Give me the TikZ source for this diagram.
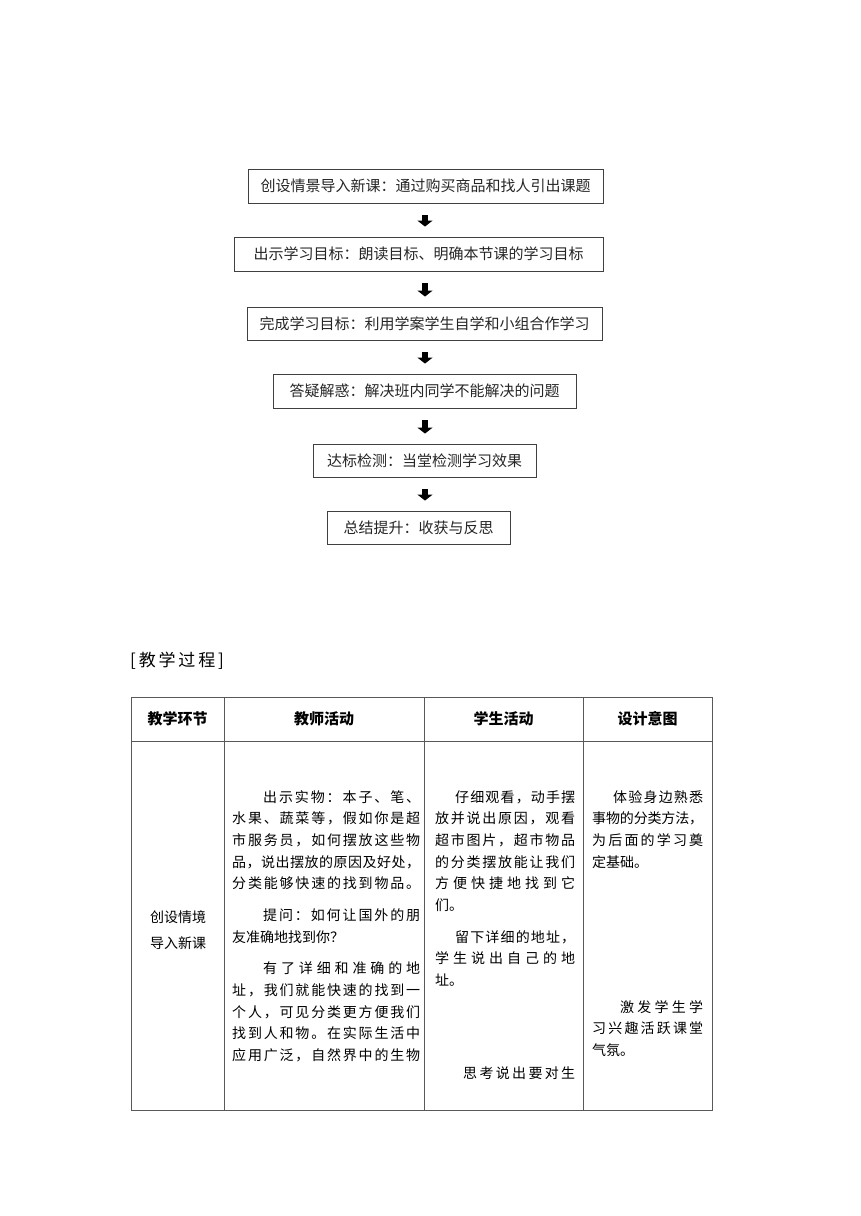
\documentclass[tikz,border=0pt]{standalone}
\usepackage{fontspec}
\setmainfont{Noto Sans CJK SC}
\usetikzlibrary{arrows.meta}

% gesperrte Zeile: Zeichen auf volle Breite verteilen
\def\sperrschleife#1#2{#1\ifx\relax#2\else\hskip 0pt plus 1fil minus 2pt\expandafter\sperrschleife\expandafter#2\fi}
\newcommand\sperrzeile[3]{\hbox to #1{\hskip #2\relax\sperrschleife#3\relax\relax}}

\tikzset{
  kasten/.style={draw=black!75, line width=0.9pt, minimum height=34pt, inner sep=0pt,
    font=\fontsize{15}{18}\selectfont, text=black!85},
  pfeil/.style={line width=6pt, black, -{Triangle[width=15pt,length=6pt]},
    shorten <=12pt, shorten >=10pt},
  zeile/.style={anchor=west, inner sep=0pt, text height=12.3pt, text depth=1.7pt,
    font=\fontsize{14}{16}\selectfont},
  kopf/.style={inner sep=0pt, font=\fontsize{15}{18}\selectfont\bfseries},
  gitter/.style={draw=black!65, line width=0.9pt},
}

\begin{document}
\begin{tikzpicture}[x=1pt,y=-1pt]
  \fill[white] (0,0) rectangle (860,1216);
  \useasboundingbox (0,0) rectangle (860,1216);

  % Ablauf:
  \node[kasten, minimum width=355pt] (flow1) at (425.5,186) {创设情景导入新课：通过购买商品和找人引出课题};
  \node[kasten, minimum width=369pt] (flow2) at (418.5,254) {出示学习目标：朗读目标、明确本节课的学习目标};
  \node[kasten, minimum width=355pt, minimum height=33pt] (flow3) at (424.5,323.5) {完成学习目标：利用学案学生自学和小组合作学习};
  \node[kasten, minimum width=303pt] (flow4) at (424.5,391) {答疑解惑：解决班内同学不能解决的问题};
  \node[kasten, minimum width=223pt, minimum height=33pt] (flow5) at (424.5,460.5) {达标检测：当堂检测学习效果};
  \node[kasten, minimum width=183pt, minimum height=33pt] (flow6) at (418.5,527.5) {总结提升：收获与反思};

  \coordinate (achse) at (425,0); % Pfeilachse
  \draw[pfeil] (achse |- flow1.south) -- (achse |- flow2.north);
  \draw[pfeil] (achse |- flow2.south) -- (achse |- flow3.north);
  \draw[pfeil] (achse |- flow3.south) -- (achse |- flow4.north);
  \draw[pfeil] (achse |- flow4.south) -- (achse |- flow5.north);
  \draw[pfeil] (achse |- flow5.south) -- (achse |- flow6.north);

  % Tabelle:
  \node[anchor=west, inner sep=0pt, font=\fontsize{17}{20}\selectfont] (titel) at (130,661) {[\,教\,学\,过\,程\,]};
  \draw[gitter] (131,697) rectangle (712,1110);
  \draw[gitter] (131,741) -- (712,741); % Kopfzeile
  \draw[gitter] (224,697) -- (224,1110);
  \draw[gitter] (424,697) -- (424,1110);
  \draw[gitter] (583,697) -- (583,1110);

  \node[kopf] (kopf1) at (177.5,719) {教学环节};
  \node[kopf] (kopf2) at (324,719) {教师活动};
  \node[kopf] (kopf3) at (503.5,719) {学生活动};
  \node[kopf] (kopf4) at (647.5,719) {设计意图};

  % erste Spalte
  \node[zeile, anchor=center] (phase1) at (178,917) {创设情境};
  \node[zeile, anchor=center] (phase2) at (178,943) {导入新课};

  % zweite Spalte
  \node[zeile] (lehrer1) at (232,797) {\sperrzeile{188pt}{31pt}{出示实物：本子、笔、}};
  \node[zeile] (lehrer2) at (232,818) {\sperrzeile{188pt}{0pt}{水果、蔬菜等，假如你是超}};
  \node[zeile] (lehrer3) at (232,840) {\sperrzeile{188pt}{0pt}{市服务员，如何摆放这些物}};
  \node[zeile] (lehrer4) at (232,862) {\sperrzeile{188pt}{0pt}{品，说出摆放的原因及好处，}};
  \node[zeile] (lehrer5) at (232,883) {\sperrzeile{188pt}{0pt}{分类能够快速的找到物品。}};
  \node[zeile] (lehrer6) at (232,915) {\sperrzeile{188pt}{31pt}{提问：如何让国外的朋}};
  \node[zeile] (lehrer7) at (232,937) {友准确地找到你？};
  \node[zeile] (lehrer8) at (232,968) {\sperrzeile{188pt}{31pt}{有了详细和准确的地}};
  \node[zeile] (lehrer9) at (232,990) {\sperrzeile{188pt}{0pt}{址，我们就能快速的找到一}};
  \node[zeile] (lehrer10) at (232,1012) {\sperrzeile{188pt}{0pt}{个人，可见分类更方便我们}};
  \node[zeile] (lehrer11) at (232,1033) {\sperrzeile{188pt}{0pt}{找到人和物。在实际生活中}};
  \node[zeile] (lehrer12) at (232,1055) {\sperrzeile{188pt}{0pt}{应用广泛，自然界中的生物}};

  % dritte Spalte
  \node[zeile] (schueler1) at (435,797) {\sperrzeile{140pt}{20pt}{仔细观看，动手摆}};
  \node[zeile] (schueler2) at (435,818) {\sperrzeile{140pt}{0pt}{放并说出原因，观看}};
  \node[zeile] (schueler3) at (435,840) {\sperrzeile{140pt}{0pt}{超市图片，超市物品}};
  \node[zeile] (schueler4) at (435,862) {\sperrzeile{140pt}{0pt}{的分类摆放能让我们}};
  \node[zeile] (schueler5) at (435,883) {\sperrzeile{140pt}{0pt}{方便快捷地找到它}};
  \node[zeile] (schueler6) at (435,905) {们。};
  \node[zeile] (schueler7) at (435,937) {\sperrzeile{140pt}{20pt}{留下详细的地址，}};
  \node[zeile] (schueler8) at (435,958) {\sperrzeile{140pt}{0pt}{学生说出自己的地}};
  \node[zeile] (schueler9) at (435,980) {址。};
  \node[zeile] (schueler10) at (435,1073) {\sperrzeile{140pt}{28pt}{思考说出要对生}};

  % vierte Spalte
  \node[zeile] (absicht1) at (592,797) {\sperrzeile{111pt}{21pt}{体验身边熟悉}};
  \node[zeile] (absicht2) at (592,818) {\sperrzeile{111pt}{0pt}{事物的分类方法，}};
  \node[zeile] (absicht3) at (592,840) {\sperrzeile{111pt}{0pt}{为后面的学习奠}};
  \node[zeile] (absicht4) at (592,862) {定基础。};
  \node[zeile] (absicht5) at (592,1007) {\sperrzeile{111pt}{28pt}{激发学生学}};
  \node[zeile] (absicht6) at (592,1028) {\sperrzeile{111pt}{0pt}{习兴趣活跃课堂}};
  \node[zeile] (absicht7) at (592,1050) {气氛。};
\end{tikzpicture}
\end{document}
